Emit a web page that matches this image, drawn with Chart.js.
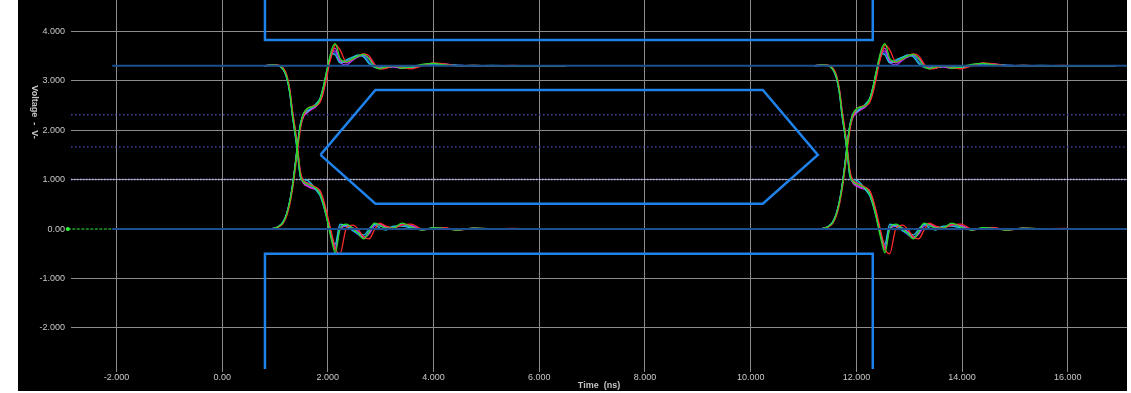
<!DOCTYPE html>
<html>
<head>
<meta charset="utf-8">
<script src="https://cdn.jsdelivr.net/npm/chart.js@4.4.1/dist/chart.umd.min.js"></script>
<style>
  html, body { margin: 0; padding: 0; background: #ffffff; }
  #frame { position: absolute; left: 18px; top: 0; width: 1109px; height: 391px; background: #000000; }
  canvas { display: block; }
</style>
</head>
<body>
<div id="frame"><canvas id="eye" width="1109" height="391"></canvas></div>
<script>
// Axis ticks
const xTickValues = [-2, 0, 2, 4, 6, 8, 10, 12, 14, 16];
const xTickLabels = ['-2.000', '0.00', '2.000', '4.000', '6.000', '8.000', '10.000', '12.000', '14.000', '16.000'];
const yTickValues = [-2, -1, 0, 1, 2, 3, 4];
const yTickLabels = ['-2.000', '-1.000', '0.00', '1.000', '2.000', '3.000', '4.000'];
const xTitle = 'Time  (ns)';
const yTitle = 'Voltage  -  V-';

// Sample times (ns) around the two bit transitions
const timeEdge1 = [0.80, 0.95, 1.05, 1.15, 1.22, 1.28, 1.33, 1.38, 1.43, 1.48, 1.54, 1.62, 1.70, 1.78, 1.85, 1.91, 1.97, 2.03, 2.09, 2.14, 2.23, 2.35, 2.48, 2.58, 2.68, 2.78, 2.88, 2.98, 3.10, 3.24, 3.40, 3.58, 3.78, 4.00, 4.20, 4.45, 4.75, 5.10, 5.50, 6.00, 6.50];
const timeEdge2 = [11.20, 11.35, 11.45, 11.55, 11.62, 11.68, 11.73, 11.78, 11.83, 11.88, 11.94, 12.02, 12.10, 12.18, 12.25, 12.31, 12.37, 12.43, 12.49, 12.54, 12.63, 12.75, 12.88, 12.98, 13.08, 13.18, 13.28, 13.38, 13.50, 13.64, 13.80, 13.98, 14.18, 14.40, 14.60, 14.85, 15.15, 15.50, 15.90, 16.40, 16.90];

// Rising-edge voltages (V) per corner
const riseRed     = [0.00, 0.01, 0.03, 0.11, 0.26, 0.50, 0.80, 1.18, 1.62, 2.02, 2.30, 2.44, 2.48, 2.50, 2.56, 2.74, 3.02, 3.34, 3.58, 3.72, 3.62, 3.38, 3.44, 3.50, 3.54, 3.50, 3.34, 3.24, 3.25, 3.30, 3.27, 3.24, 3.30, 3.36, 3.34, 3.30, 3.31, 3.30, 3.31, 3.30, 3.30];
const riseGreen   = [0.00, 0.01, 0.04, 0.13, 0.30, 0.56, 0.86, 1.26, 1.72, 2.10, 2.34, 2.44, 2.47, 2.50, 2.62, 2.85, 3.16, 3.46, 3.68, 3.75, 3.45, 3.38, 3.45, 3.50, 3.53, 3.44, 3.28, 3.24, 3.28, 3.30, 3.25, 3.28, 3.33, 3.35, 3.32, 3.30, 3.31, 3.30, 3.30, 3.30, 3.30];
const riseBlue    = [0.00, 0.01, 0.04, 0.14, 0.31, 0.57, 0.88, 1.28, 1.74, 2.12, 2.34, 2.40, 2.44, 2.50, 2.62, 2.84, 3.14, 3.40, 3.55, 3.56, 3.38, 3.40, 3.46, 3.50, 3.50, 3.38, 3.27, 3.26, 3.28, 3.28, 3.26, 3.28, 3.32, 3.34, 3.32, 3.31, 3.30, 3.30, 3.30, 3.30, 3.30];
const riseCyan    = [0.00, 0.01, 0.04, 0.14, 0.31, 0.57, 0.88, 1.28, 1.74, 2.12, 2.32, 2.38, 2.46, 2.54, 2.64, 2.86, 3.14, 3.40, 3.54, 3.52, 3.36, 3.42, 3.48, 3.52, 3.48, 3.34, 3.28, 3.30, 3.26, 3.29, 3.29, 3.26, 3.31, 3.34, 3.33, 3.31, 3.30, 3.31, 3.30, 3.30, 3.30];
const riseMagenta = [0.00, 0.01, 0.04, 0.13, 0.30, 0.56, 0.87, 1.28, 1.74, 2.10, 2.28, 2.36, 2.42, 2.48, 2.60, 2.82, 3.12, 3.42, 3.62, 3.65, 3.40, 3.36, 3.44, 3.50, 3.52, 3.44, 3.30, 3.25, 3.27, 3.28, 3.25, 3.27, 3.32, 3.35, 3.33, 3.30, 3.31, 3.30, 3.30, 3.30, 3.30];
const risePurple  = [0.00, 0.01, 0.04, 0.13, 0.30, 0.55, 0.85, 1.25, 1.70, 2.06, 2.27, 2.37, 2.44, 2.49, 2.58, 2.80, 3.10, 3.40, 3.58, 3.60, 3.38, 3.32, 3.42, 3.48, 3.51, 3.46, 3.32, 3.25, 3.26, 3.29, 3.26, 3.26, 3.31, 3.35, 3.34, 3.31, 3.30, 3.30, 3.30, 3.30, 3.30];

// Falling-edge voltages (V) per corner
const fallRed     = [3.30, 3.32, 3.32, 3.26, 3.12, 2.82, 2.40, 2.04, 1.62, 1.16, 0.98, 0.92, 0.88, 0.84, 0.78, 0.62, 0.38, 0.10, -0.18, -0.40, -0.50, 0.02, 0.08, -0.02, -0.16, -0.20, -0.02, 0.12, 0.06, 0.02, 0.08, 0.10, 0.00, 0.01, 0.03, -0.02, 0.02, 0.00, 0.01, 0.00, 0.00];
const fallGreen   = [3.30, 3.32, 3.31, 3.24, 3.08, 2.76, 2.31, 1.95, 1.54, 1.07, 0.95, 0.90, 0.86, 0.82, 0.72, 0.52, 0.26, -0.04, -0.32, -0.48, 0.00, 0.10, 0.00, -0.10, -0.20, -0.06, 0.12, 0.08, 0.02, 0.02, 0.12, 0.04, -0.02, 0.03, 0.01, -0.02, 0.02, 0.00, 0.00, 0.00, 0.00];
const fallBlue    = [3.30, 3.31, 3.31, 3.23, 3.06, 2.74, 2.28, 1.92, 1.50, 1.04, 0.96, 0.94, 0.88, 0.80, 0.70, 0.50, 0.26, 0.00, -0.24, -0.34, 0.08, 0.08, -0.04, -0.12, -0.18, -0.04, 0.08, 0.06, 0.03, 0.04, 0.08, 0.04, -0.01, 0.02, 0.01, -0.01, 0.01, 0.00, 0.00, 0.00, 0.00];
const fallCyan    = [3.30, 3.31, 3.31, 3.23, 3.06, 2.74, 2.28, 1.92, 1.50, 1.06, 1.00, 0.98, 0.90, 0.78, 0.68, 0.50, 0.28, 0.02, -0.22, -0.30, 0.10, 0.06, -0.04, -0.08, -0.12, 0.00, 0.10, 0.02, -0.02, 0.06, 0.06, 0.02, 0.00, 0.02, 0.01, -0.01, 0.01, 0.00, 0.00, 0.00, 0.00];
const fallMagenta = [3.30, 3.32, 3.31, 3.24, 3.08, 2.78, 2.34, 1.98, 1.56, 1.10, 0.92, 0.86, 0.82, 0.80, 0.74, 0.56, 0.30, 0.02, -0.26, -0.42, 0.02, 0.08, 0.00, -0.08, -0.18, -0.08, 0.10, 0.10, 0.04, 0.02, 0.10, 0.06, -0.02, 0.02, 0.02, -0.02, 0.01, 0.00, 0.00, 0.00, 0.00];
const fallPurple  = [3.30, 3.32, 3.31, 3.25, 3.10, 2.80, 2.36, 2.00, 1.58, 1.12, 0.94, 0.88, 0.84, 0.81, 0.76, 0.58, 0.33, 0.06, -0.22, -0.38, 0.00, 0.06, 0.02, -0.06, -0.16, -0.10, 0.06, 0.10, 0.05, 0.02, 0.08, 0.07, 0.00, 0.01, 0.02, -0.01, 0.01, 0.00, 0.00, 0.00, 0.00];

// Logic levels and thresholds (V)
const highLevel = 3.3;
const lowLevel = 0;
const levelStart = -2.08;
const levelEnd = 17.12;
const thresholdLevels = [2.31, 1.66];
const midLevel = 1.0;
const idleStart = -2.92;

// Eye mask (ns, V)
const maskTopX = [0.81, 0.81, 12.31, 12.31];
const maskTopY = [5.5, 3.82, 3.82, 5.5];
const maskBottomX = [0.81, 0.81, 12.31, 12.31];
const maskBottomY = [-3.5, -0.50, -0.50, -3.5];
const hexX = [1.86, 2.90, 10.23, 11.27, 10.23, 2.90, 1.86];
const hexY = [1.50, 2.81, 2.81, 1.50, 0.51, 0.51, 1.50];

// first entry is painted last (on top)
const corners = [
  { color: '#22dd22', rise: riseGreen,   fall: fallGreen },
  { color: '#ff2b2b', rise: riseRed,     fall: fallRed },
  { color: '#20c6d6', rise: riseCyan,    fall: fallCyan },
  { color: '#e22ee2', rise: riseMagenta, fall: fallMagenta },
  { color: '#3a5cff', rise: riseBlue,    fall: fallBlue },
  { color: '#9a3cff', rise: risePurple,  fall: fallPurple }
];

const pts = (xs, ys) => xs.map((x, i) => ({ x: x, y: ys[i] }));

const datasets = [];

// mask outline, drawn on top
const maskStyle = { borderColor: '#1f82ea', borderWidth: 2.5, pointRadius: 0, tension: 0, order: 0, fill: false };
datasets.push(Object.assign({ data: pts(maskTopX, maskTopY) }, maskStyle));
datasets.push(Object.assign({ data: pts(maskBottomX, maskBottomY) }, maskStyle));
datasets.push(Object.assign({ data: pts(hexX, hexY) }, maskStyle));

// logic level lines, painted over the settled part of the waveforms
[highLevel, lowLevel].forEach(lv => {
  datasets.push({
    data: pts([levelStart, levelEnd], [lv, lv]), borderColor: '#1d4f8e', borderWidth: 2,
    pointRadius: 0, order: 0.5, fill: false
  });
});

// corner waveforms
corners.forEach(c => {
  [timeEdge1, timeEdge2].forEach(t => {
    [c.rise, c.fall].forEach(v => {
      datasets.push({
        data: pts(t, v), borderColor: c.color, borderWidth: 1.3, pointRadius: 0,
        cubicInterpolationMode: 'monotone', order: 1, fill: false
      });
    });
  });
});

// idle segment before the first sample
datasets.push({
  data: pts([idleStart, levelStart], [lowLevel, lowLevel]), borderColor: '#1f9a2a', borderWidth: 1.5,
  borderDash: [3, 1.5], pointRadius: [2, 0], pointBackgroundColor: '#2cff3a', pointBorderWidth: 0,
  order: 2, clip: false, fill: false
});

// threshold lines
thresholdLevels.forEach(lv => {
  datasets.push({
    data: pts([-2.86, levelEnd], [lv, lv]), borderColor: '#3e3e9c', borderWidth: 1.5,
    borderDash: [1.5, 2.5], pointRadius: 0, order: 3, fill: false
  });
});
datasets.push({
  data: pts([-2.86, levelEnd], [midLevel, midLevel]), borderColor: '#b4b4ec', borderWidth: 1.5,
  borderDash: [1.5, 1.5], pointRadius: 0, order: 3, fill: false
});

const verticalTitle = {
  id: 'verticalTitle',
  afterDraw(chart) {
    const ctx = chart.ctx;
    ctx.save();
    ctx.translate(16, 112);
    ctx.rotate(Math.PI / 2);
    ctx.font = 'bold 9px "Liberation Sans", Arial, sans-serif';
    ctx.fillStyle = '#c4c4c4';
    ctx.textAlign = 'center';
    ctx.textBaseline = 'middle';
    ctx.fillText(yTitle, 0, 0);
    ctx.restore();
  }
};

const tickFont = { family: '"Liberation Sans", Arial, sans-serif', size: 9 };

new Chart(document.getElementById('eye'), {
  type: 'line',
  data: { datasets: datasets },
  plugins: [verticalTitle],
  options: {
    responsive: false,
    animation: false,
    events: [],
    layout: { padding: 0, autoPadding: false },
    plugins: { legend: { display: false }, tooltip: { enabled: false } },
    scales: {
      x: {
        type: 'linear', min: -2.86, max: 17.12,
        afterBuildTicks: s => { s.ticks = xTickValues.map(v => ({ value: v })); },
        afterFit: s => { s.height = 22; s.paddingLeft = 0; s.paddingRight = 0; },
        grid: { color: '#8c8c8c', lineWidth: 1, drawTicks: true, tickLength: 3 },
        border: { display: false },
        ticks: {
          color: '#c8c8c8', font: tickFont, padding: 0, maxRotation: 0, autoSkip: false,
          callback: v => xTickLabels[xTickValues.indexOf(v)]
        },
        title: {
          display: true, text: xTitle, color: '#c4c4c4',
          font: { family: '"Liberation Sans", Arial, sans-serif', size: 9, weight: 'bold' },
          padding: { top: 0, bottom: 0 }
        }
      },
      y: {
        type: 'linear', min: -2.83, max: 4.63,
        afterBuildTicks: s => { s.ticks = yTickValues.map(v => ({ value: v })); },
        afterFit: s => { s.width = 53; s.paddingTop = 0; s.paddingBottom = 0; },
        grid: {
          color: c => (c.tick && c.tick.value === 0) ? 'rgba(0,0,0,0)' : '#8c8c8c',
          lineWidth: 1, drawTicks: false
        },
        border: { display: false },
        ticks: {
          color: '#c8c8c8', font: tickFont, padding: 6, autoSkip: false,
          callback: v => yTickLabels[yTickValues.indexOf(v)]
        }
      }
    }
  }
});
</script>
</body>
</html>
